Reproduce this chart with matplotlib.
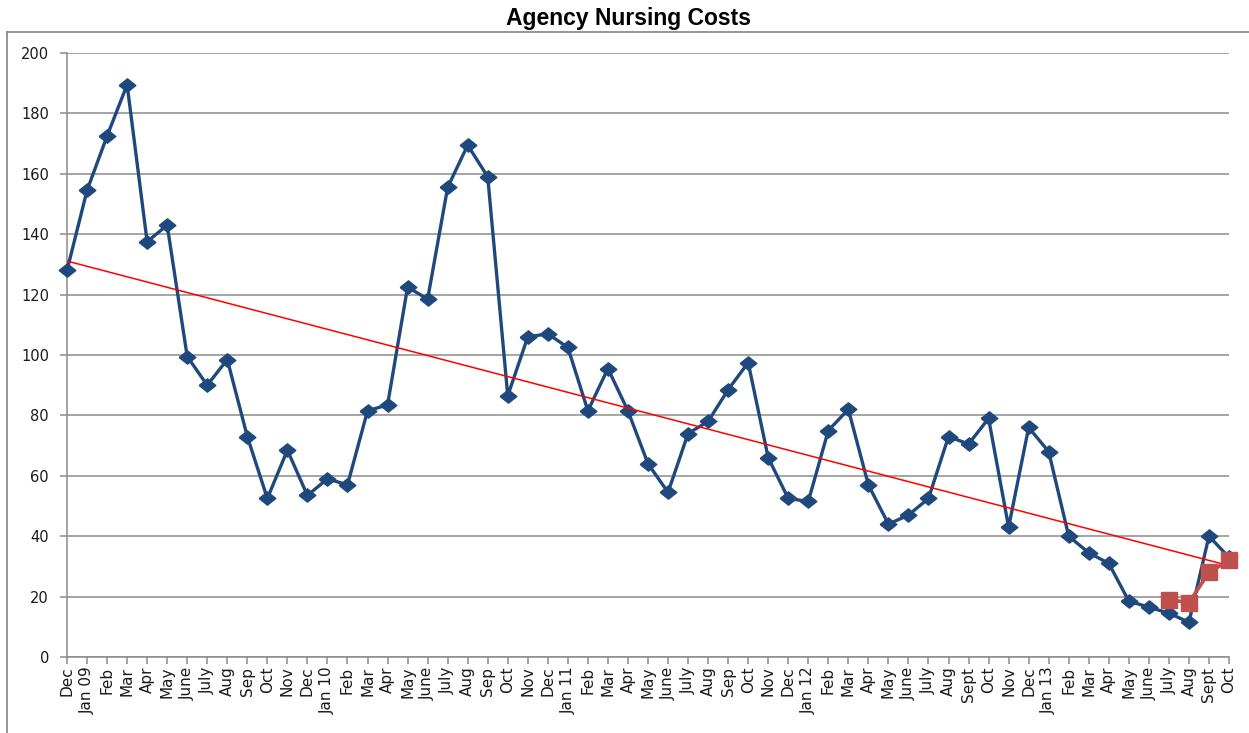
import matplotlib
matplotlib.use("Agg")
import matplotlib.pyplot as plt
import numpy as np
from matplotlib.lines import Line2D

months = ["Dec", "Jan 09", "Feb", "Mar", "Apr", "May", "June", "July", "Aug", "Sep",
          "Oct", "Nov", "Dec", "Jan 10", "Feb", "Mar", "Apr", "May", "June", "July",
          "Aug", "Sep", "Oct", "Nov", "Dec", "Jan 11", "Feb", "Mar", "Apr", "May",
          "June", "July", "Aug", "Sep", "Oct", "Nov", "Dec", "Jan 12", "Feb", "Mar",
          "Apr", "May", "June", "July", "Aug", "Sept", "Oct", "Nov", "Dec", "Jan 13",
          "Feb", "Mar", "Apr", "May", "June", "July", "Aug", "Sept", "Oct"]

costs = [128, 154.5, 172.5, 189.5, 137.5, 143, 99.5, 90, 98.5, 73,
         52.5, 68.5, 53.5, 59, 57, 81.5, 83.5, 122.5, 118.5, 155.5,
         169.5, 159, 86.5, 106, 107, 102.5, 81.5, 95.5, 81.5, 64,
         54.5, 74, 78, 88.5, 97.5, 66, 52.5, 51.5, 75, 82,
         57, 44, 47, 52.5, 73, 70.5, 79, 43, 76, 68,
         40, 34.5, 31, 18.5, 16.5, 14.5, 11.5, 40, 33]

recent_labels = ["July", "Aug", "Sept", "Oct"]
recent_values = [19, 18, 28, 32]

y_ticks = [0, 20, 40, 60, 80, 100, 120, 140, 160, 180, 200]

plt.rcParams['font.family'] = ['DejaVu Sans']

W, H = 1249, 733
fig = plt.figure(figsize=(W / 100, H / 100), dpi=100)

ax = fig.add_axes([67 / W, 76 / H, (1229 - 67) / W, (657 - 53) / H])

x = np.arange(len(months))
diamond = [(-1, 0), (0, 0.8), (1, 0), (0, -0.8), (-1, 0)]
ax.plot(x, costs, color="#1F497D", linewidth=2.4, marker=diamond, markersize=12,
        zorder=3, clip_on=False)

# linear trend line of the main series
coef = np.polyfit(x, costs, 1)
ax.plot(x[[0, -1]], np.polyval(coef, x[[0, -1]]), color="#FF0000", linewidth=1.1, zorder=4)

rx = x[-len(recent_values):]
ax.plot(rx, recent_values, color="#C0504D", linewidth=2.6, marker="s", markersize=11,
        zorder=5, clip_on=False)

ax.set_xlim(0, len(months) - 1)
ax.set_ylim(0, 200)
ax.set_yticks(y_ticks)
ax.set_xticks(x)
ax.set_xticklabels(months, rotation=90, fontsize=11, color="#1a1a1a")
ax.set_yticklabels([str(v) for v in y_ticks], fontsize=10.5, color="#1a1a1a")

ax.grid(axis="y", color="#8c8c8c", linewidth=1.1)
ax.set_axisbelow(True)
for s in ["top", "right"]:
    ax.spines[s].set_visible(False)
for s in ["left", "bottom"]:
    ax.spines[s].set_color("#8c8c8c")
    ax.spines[s].set_linewidth(1.1)
ax.tick_params(axis="both", color="#8c8c8c", length=5, width=1.1)
ax.tick_params(axis="x", pad=2)
ax.tick_params(axis="y", pad=8)

# chart area border
fig.add_artist(Line2D([7 / W, 7 / W], [0, 1 - 32 / H], transform=fig.transFigure,
                      color="#8c8c8c", linewidth=1.3))
fig.add_artist(Line2D([7 / W, 1], [1 - 32 / H, 1 - 32 / H], transform=fig.transFigure,
                      color="#8c8c8c", linewidth=1.3))

fig.text(629 / W, 1 - 18.5 / H, "Agency Nursing Costs", ha="center", va="center",
         fontsize=16.5, fontweight="bold", family=["Liberation Sans", "DejaVu Sans"])

fig.savefig("out.png", dpi=100)
